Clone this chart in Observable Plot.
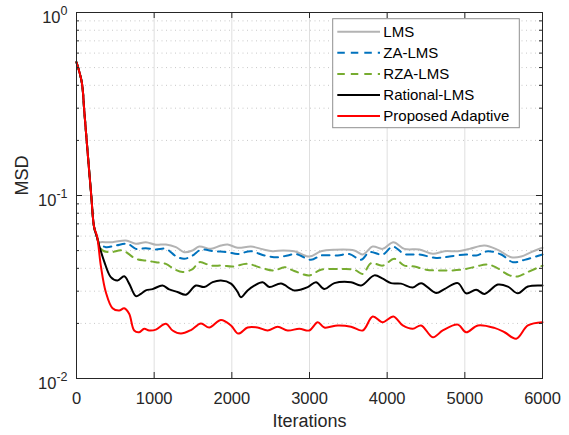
<!DOCTYPE html>
<html><head><meta charset="utf-8">
<script src="https://cdn.jsdelivr.net/npm/d3@7"></script>
<script src="https://cdn.jsdelivr.net/npm/@observablehq/plot@0.6"></script>
<style>html,body{margin:0;padding:0;background:#fff;overflow:hidden}svg{display:block}</style>
</head><body><div id="chart"></div>
<script>
const seriesNames = ["LMS", "ZA-LMS", "RZA-LMS", "Rational-LMS", "Proposed Adaptive"];
const seriesColors = ["#b3b3b3", "#0072bd", "#77ac30", "#000000", "#ff0000"];
const seriesDash = [null, "7.5,6", "7.5,6", null, null];

// shared initial transient (iteration, MSD)
const startCurve = [[0,0.535],[68,0.416],[100,0.29],[141,0.177],[190,0.1],[227,0.0671]];

const lms = [[265,0.059],[292,0.0554],[313,0.0556],[464,0.0556],[636,0.0568],[764,0.0545],[893,0.0556],[1022,0.0538],[1151,0.054],[1280,0.0522],[1387,0.049],[1495,0.0501],[1580,0.0526],[1731,0.0511],[1860,0.0533],[1946,0.054],[2075,0.0518],[2246,0.0526],[2375,0.0511],[2525,0.0496],[2660,0.0501],[2804,0.0496],[2997,0.0464],[3148,0.0496],[3320,0.0505],[3577,0.0501],[3686,0.0476],[3814,0.0526],[3943,0.0511],[4080,0.0556],[4222,0.0511],[4415,0.0507],[4588,0.048],[4737,0.0496],[4910,0.0496],[5060,0.0511],[5253,0.0533],[5425,0.0505],[5597,0.046],[5726,0.0464],[5855,0.049],[6000,0.0518]];

const zaLms = [[265,0.059],[292,0.0547],[378,0.0522],[507,0.0533],[657,0.0545],[764,0.0511],[893,0.0515],[1022,0.0507],[1151,0.0511],[1280,0.0466],[1387,0.0451],[1495,0.047],[1602,0.0505],[1773,0.0496],[1946,0.049],[2075,0.0479],[2246,0.0496],[2418,0.047],[2590,0.046],[2719,0.047],[2826,0.0479],[3019,0.0445],[3148,0.047],[3363,0.047],[3513,0.0479],[3664,0.0445],[3771,0.049],[3943,0.0476],[4072,0.0526],[4222,0.0479],[4415,0.0476],[4630,0.0456],[4802,0.0464],[5017,0.0476],[5146,0.047],[5296,0.0496],[5468,0.0476],[5619,0.0432],[5768,0.0445],[6000,0.0476]];

const rzaLms = [[265,0.059],[292,0.054],[335,0.0501],[442,0.049],[592,0.0501],[764,0.0451],[893,0.0441],[1022,0.0432],[1151,0.0423],[1258,0.0396],[1366,0.0382],[1495,0.0396],[1580,0.0432],[1731,0.0414],[1881,0.0414],[2010,0.0409],[2203,0.0423],[2375,0.0403],[2547,0.0389],[2676,0.0406],[2804,0.0387],[2997,0.0366],[3148,0.0393],[3363,0.0396],[3577,0.0393],[3686,0.0373],[3793,0.0427],[3943,0.0414],[4093,0.0451],[4222,0.0414],[4351,0.0409],[4502,0.0393],[4716,0.0389],[4952,0.0393],[5146,0.0409],[5275,0.042],[5382,0.0409],[5576,0.0366],[5683,0.0361],[5812,0.0382],[6000,0.0414]];

const rationalLms = [[265,0.059],[292,0.0533],[356,0.0437],[442,0.0358],[528,0.0343],[614,0.0362],[678,0.033],[764,0.0282],[829,0.029],[893,0.0303],[979,0.0308],[1108,0.0322],[1193,0.0307],[1301,0.0297],[1409,0.0287],[1537,0.0322],[1644,0.0316],[1753,0.0336],[1860,0.0343],[1989,0.033],[2075,0.0297],[2117,0.0278],[2203,0.0303],[2289,0.0322],[2397,0.0336],[2483,0.0316],[2633,0.033],[2804,0.0303],[2977,0.0316],[3084,0.0336],[3191,0.0308],[3320,0.0332],[3535,0.0336],[3664,0.0322],[3835,0.0366],[3943,0.0351],[4050,0.0332],[4179,0.033],[4330,0.0314],[4437,0.0332],[4630,0.0293],[4737,0.0308],[4910,0.0332],[5017,0.0292],[5146,0.0305],[5253,0.029],[5425,0.0326],[5554,0.0318],[5683,0.0292],[5812,0.0318],[6000,0.0322]];

const proposed = [[265,0.0597],[313,0.0414],[378,0.0296],[464,0.0242],[549,0.0235],[614,0.0242],[678,0.0226],[743,0.0183],[807,0.0179],[872,0.0187],[936,0.0183],[1022,0.0185],[1151,0.0199],[1237,0.0183],[1344,0.0176],[1473,0.0184],[1602,0.02],[1709,0.019],[1860,0.0209],[1989,0.0195],[2083,0.0176],[2203,0.019],[2330,0.019],[2461,0.0183],[2590,0.0192],[2719,0.0183],[2869,0.0187],[2997,0.0183],[3106,0.0203],[3191,0.019],[3363,0.0195],[3535,0.0192],[3686,0.0183],[3814,0.0218],[3943,0.0203],[4080,0.0218],[4201,0.0195],[4330,0.0187],[4437,0.0195],[4588,0.0168],[4716,0.0183],[4910,0.0197],[5017,0.0179],[5168,0.0195],[5381,0.0189],[5511,0.0179],[5662,0.0165],[5812,0.0195],[6000,0.0203]];

const xTicks = [0, 1000, 2000, 3000, 4000, 5000, 6000];
const yMajor = [0.01, 0.1, 1];
const yMinor = [0.02,0.03,0.04,0.05,0.06,0.07,0.08,0.09,0.2,0.3,0.4,0.5,0.6,0.7,0.8,0.9];
const xLabel = "Iterations";
const yLabel = "MSD";

const W = 569, H = 435, mL = 76, mR = 27, mT = 12, mB = 57;
const plotW = W - mL - mR, plotH = H - mT - mB;
const axisColor = "#262626";
const fontFamily = "'Liberation Sans', Arial, Helvetica, sans-serif";

const allSeries = [lms, zaLms, rzaLms, rationalLms, proposed];
const rows = [];
allSeries.forEach((s, i) => {
  for (const [it, v] of startCurve.concat(s)) rows.push({series: seriesNames[i], iter: it, msd: v});
});

const lineMarks = seriesNames.map((name, i) => Plot.line(rows.filter(r => r.series === name), {
  x: "iter", y: "msd", stroke: seriesColors[i], strokeWidth: 2,
  strokeDasharray: seriesDash[i] || undefined, curve: "catmull-rom"
}));

const svg = Plot.plot({
  width: W, height: H,
  marginLeft: mL, marginRight: mR, marginTop: mT, marginBottom: mB,
  style: {fontFamily, fontSize: "16.5px", color: axisColor, background: "#fff", overflow: "visible"},
  x: {domain: [0, 6000], axis: null},
  y: {type: "log", domain: [0.01, 1], axis: null},
  marks: [
    Plot.ruleX(xTicks, {x: d => d, stroke: "#dfdfdf", strokeWidth: 1}),
    Plot.ruleY(yMinor, {y: d => d, stroke: "#c8c8c8", strokeWidth: 1, strokeDasharray: "1,3.5"}),
    Plot.ruleY([0.1], {y: d => d, stroke: "#dfdfdf", strokeWidth: 1}),
    ...lineMarks,
    Plot.frame({stroke: axisColor, strokeWidth: 1}),
    Plot.tickX(xTicks, {x: d => d, insetTop: plotH - 6, stroke: axisColor}),
    Plot.tickX(xTicks, {x: d => d, insetBottom: plotH - 6, stroke: axisColor}),
    Plot.tickY(yMajor, {y: d => d, insetRight: plotW - 6, stroke: axisColor}),
    Plot.tickY(yMajor, {y: d => d, insetLeft: plotW - 6, stroke: axisColor}),
    Plot.tickY(yMinor, {y: d => d, insetRight: plotW - 3, stroke: axisColor}),
    Plot.tickY(yMinor, {y: d => d, insetLeft: plotW - 3, stroke: axisColor}),
    Plot.axisX(xTicks, {tickSize: 0, tickPadding: 13.5, tickFormat: d => String(d), fontSize: 16.5, label: null}),
    Plot.text(yMajor, {y: d => d, frameAnchor: "left", text: d => "10^" + Math.round(Math.log10(d)), textAnchor: "end", dx: -9, dy: 5, lineAnchor: "middle", fontSize: 16.5}),
    Plot.text([yLabel], {frameAnchor: "left", text: d => d, rotate: -90, dx: -54, fontSize: 18, lineAnchor: "middle"}),
    Plot.text([xLabel], {frameAnchor: "bottom", text: d => d, dy: 43, fontSize: 18, lineAnchor: "middle"})
  ]
});

// superscript exponents on the log tick labels
d3.select(svg).selectAll("text").each(function() {
  const m = /^10\^(.+)$/.exec(this.textContent);
  if (m) {
    const s = d3.select(this);
    s.text(null);
    s.append("tspan").text("10");
    s.append("tspan").attr("dy", -8).attr("font-size", 12.5).text(m[1]);
  }
});

// legend box inside the axes (upper right)
const lgW = 186.6, lgH = 109;
const lx = W - mR - 22.7 - lgW, ly = mT + 6.7;
const lg = d3.select(svg).append("g")
  .attr("font-size", 15).attr("font-family", fontFamily).attr("text-anchor", "start");
lg.append("rect").attr("x", lx).attr("y", ly).attr("width", lgW).attr("height", lgH)
  .attr("fill", "#fff").attr("stroke", "#8f8f8f").attr("stroke-width", 1);
seriesNames.forEach((n, i) => {
  const cy = ly + 13 + i * 21.1;
  const ln = lg.append("line").attr("x1", lx + 4.6).attr("x2", lx + 47.3).attr("y1", cy).attr("y2", cy)
    .attr("stroke", seriesColors[i]).attr("stroke-width", 2);
  if (seriesDash[i]) ln.attr("stroke-dasharray", seriesDash[i]);
  lg.append("text").attr("x", lx + 50.6).attr("y", cy).attr("dy", "0.35em")
    .attr("text-anchor", "start").attr("fill", "#000").text(n);
});

document.getElementById("chart").appendChild(svg);
</script>
</body></html>
